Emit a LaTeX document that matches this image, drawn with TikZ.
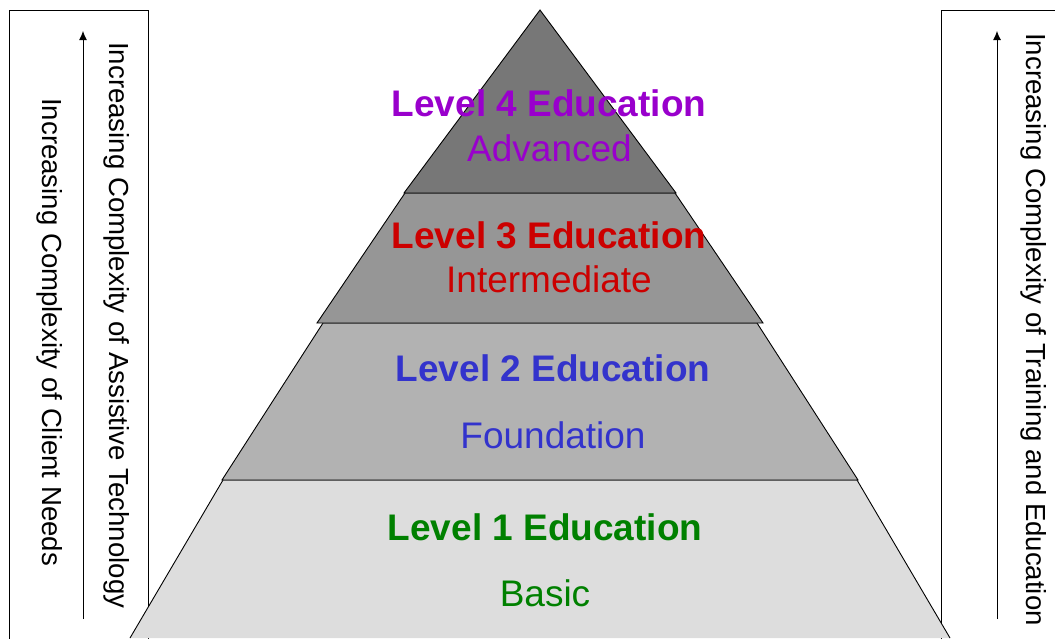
\documentclass[tikz,border=0pt]{standalone}
\usepackage{fontspec}
\setmainfont{Liberation Sans}
\usetikzlibrary{arrows.meta}
\definecolor{lvfour}{RGB}{153,0,204}
\definecolor{lvthree}{RGB}{204,0,0}
\definecolor{lvtwo}{RGB}{51,51,204}
\definecolor{lvone}{RGB}{0,128,0}
\definecolor{fillfour}{HTML}{777777}
\definecolor{fillthree}{HTML}{969696}
\definecolor{filltwo}{HTML}{B2B2B2}
\definecolor{fillone}{HTML}{DDDDDD}
\tikzset{
  band/.style={draw=black, line width=0.9pt, line join=miter},
  boxline/.style={draw=black, line width=0.9pt},
  uparrow/.style={draw=black, line width=0.9pt, -{Latex[length=9pt,width=8pt]}},
  title/.style={anchor=base, inner sep=0pt, font=\fontsize{37}{40}\selectfont\bfseries},
  sub/.style={anchor=base, inner sep=0pt, font=\fontsize{37}{40}\selectfont},
  side/.style={anchor=base west, inner sep=0pt, rotate=-90, font=\fontsize{27.6}{30}\selectfont}
}
\begin{document}
\begin{tikzpicture}[x=1pt,y=-1pt]
\useasboundingbox (0,0) rectangle (1055,638);
\clip (0,0) rectangle (1055,638);
% side boxes
\draw[boxline] (9,645) -- (9,10) -- (148,10) -- (148,645);
\draw[boxline] (941,645) -- (941,10) -- (1060,10);
% arrows
\coordinate (la0) at (83,619); \coordinate (la1) at (83,31);
\coordinate (ra0) at (997,619); \coordinate (ra1) at (997,31);
\draw[uparrow] (la0) -- (la1);
\draw[uparrow] (ra0) -- (ra1);
% side texts
\node[side] (tneeds) at (42,98) {Increasing Complexity of Client Needs};
\node[side] (tassist) at (109,42) {Increasing Complexity of Assistive Technology};
\node[side] (ttrain) at (1026,33) {Increasing Complexity of Training and Education};
% pyramid bands
\fill[fillone] (223,480) -- (857,480) -- (950,638) -- (130,638) -- cycle;
\draw[band] (130,638) -- (223,480) -- (857,480) -- (950,638);
\filldraw[band, fill=filltwo] (323,323) -- (757,323) -- (858,480) -- (222,480) -- cycle;
\filldraw[band, fill=fillthree] (405,193) -- (675,193) -- (763,323) -- (317,323) -- cycle;
\filldraw[band, fill=fillfour] (540,10) -- (676,193) -- (404,193) -- cycle;
% labels
\node[title, text=lvfour] (l4) at (549,116.5) {Level 4 Education};
\node[sub, text=lvfour] (s4) at (549.5,161.5) {Advanced};
\node[title, text=lvthree] (l3) at (549,248) {Level 3 Education};
\node[sub, text=lvthree] (s3) at (549,292) {Intermediate};
\node[title, text=lvtwo] (l2) at (553,381.5) {Level 2 Education};
\node[sub, text=lvtwo] (s2) at (553,448) {Foundation};
\node[title, text=lvone] (l1) at (545,540.5) {Level 1 Education};
\node[sub, text=lvone] (s1) at (545,606.5) {Basic};
\end{tikzpicture}
\end{document}
